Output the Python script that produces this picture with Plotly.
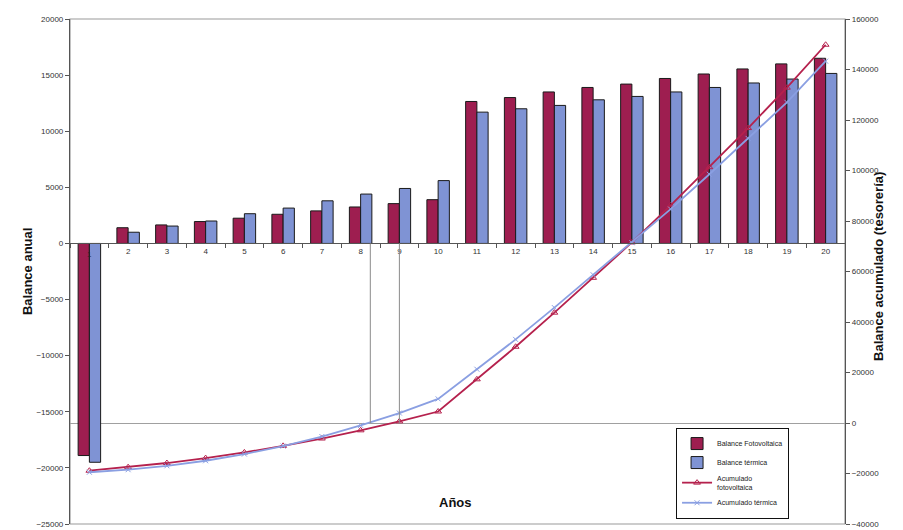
import plotly.graph_objects as go

years = list(range(1, 21))
balance_fv = [-18900, 1400, 1650, 1950, 2250, 2600, 2900, 3250, 3550, 3900,
              12650, 13000, 13500, 13900, 14200, 14700, 15100, 15550, 16000, 16500]
balance_term = [-19500, 1000, 1550, 2000, 2650, 3150, 3800, 4400, 4900, 5600,
                11700, 12000, 12300, 12800, 13100, 13500, 13900, 14300, 14650, 15150]
acum_fv = [-18900, -17500, -15850, -13900, -11650, -9050, -6150, -2900, 650, 4550,
           17300, 30200, 43700, 57500, 71500, 86200, 101300, 116800, 132800, 149800]
acum_term = [-19500, -18500, -16950, -14950, -12300, -9150, -5350, -950, 3950, 9550,
             21300, 33100, 45700, 58700, 71400, 84700, 98500, 112700, 127000, 143300]
payback_years = [8.25, 9]

left_range = [-25000, 20000]
right_range = [-40000, 160000]

RED = "#9E1E50"
BLUE = "#7F93D4"
LRED = "#B5214D"
LBLUE = "#8A9FE2"
FONT = "Liberation Sans, Arial, sans-serif"

fig = go.Figure()
fig.add_trace(go.Bar(x=years, y=balance_fv, name="Balance Fotovoltaica",
                     marker=dict(color=RED, line=dict(color="#1a1a1a", width=1))))
fig.add_trace(go.Bar(x=years, y=balance_term, name="Balance térmica",
                     marker=dict(color=BLUE, line=dict(color="#1a1a1a", width=1))))
fig.add_trace(go.Scatter(x=years, y=acum_fv, name="Acumulado<br>fotovoltaica",
                         yaxis="y2", mode="lines+markers",
                         line=dict(color=LRED, width=1.8),
                         marker=dict(symbol="triangle-up-open", size=6, color=LRED)))
fig.add_trace(go.Scatter(x=years, y=acum_term, name="Acumulado térmica",
                         yaxis="y2", mode="lines+markers",
                         line=dict(color=LBLUE, width=1.8),
                         marker=dict(symbol="x-thin-open", size=5, color=LBLUE,
                                     line=dict(color=LBLUE, width=1))))

zero_frac_left = (0 - left_range[0]) / (left_range[1] - left_range[0])
zero_frac_right = (0 - right_range[0]) / (right_range[1] - right_range[0])

shapes = [dict(type="rect", xref="paper", yref="paper", x0=0, x1=1, y0=0, y1=1,
               line=dict(color="#9a9a9a", width=1.2), layer="below")]
for px in payback_years:
    shapes.append(dict(type="line", xref="x", yref="paper", x0=px, x1=px,
                       y0=zero_frac_right, y1=zero_frac_left,
                       line=dict(color="#8a8a8a", width=1)))

tick_text = [str(y) for y in years]
tick_text[0] = ""

fig.update_layout(
    width=903, height=530,
    margin=dict(l=62, r=66, t=11, b=14, autoexpand=False),
    paper_bgcolor="white", plot_bgcolor="white",
    barmode="group", bargap=0.42, bargroupgap=0,
    font=dict(family=FONT, size=8, color="#333"),
    showlegend=True,
    legend=dict(x=0.782, y=0.19, xanchor="left", yanchor="top",
                bordercolor="#111", borderwidth=1, bgcolor="white",
                font=dict(size=7, color="#222"), tracegroupgap=3,
                itemwidth=30, entrywidth=110, entrywidthmode="pixels"),
    xaxis=dict(range=[0.5, 20.5], anchor="free", position=zero_frac_left,
               automargin=False,
               tickmode="array", tickvals=years, ticktext=tick_text,
               ticks="", showline=True, linecolor="#555", linewidth=1,
               showgrid=False, zeroline=False,
               tickfont=dict(size=8, color="#333"),
               minor=dict(tick0=0.5, dtick=1, ticks="outside", ticklen=4,
                          tickcolor="#555", showgrid=False)),
    yaxis=dict(range=left_range, dtick=5000, tick0=0, showline=True,
               automargin=False, tickformat="d",
               linecolor="#555", linewidth=1.2, ticks="outside", ticklen=4,
               tickcolor="#555", showgrid=False, zeroline=False,
               tickfont=dict(size=8, color="#333")),
    yaxis2=dict(range=right_range, dtick=20000, tick0=0, overlaying="y",
                automargin=False, tickformat="d",
                side="right", showline=True, linecolor="#555", linewidth=1.2,
                ticks="outside", ticklen=4, tickcolor="#555", showgrid=False,
                zeroline=True, zerolinecolor="#a0a0a0", zerolinewidth=1.2,
                tickfont=dict(size=8, color="#333")),
    shapes=shapes,
    annotations=[
        dict(text="<b>Balance anual</b>", xref="paper", yref="paper",
             x=-0.067, y=0.5, textangle=-90, showarrow=False,
             font=dict(size=13, color="#111")),
        dict(text="<b>Balance acumulado (tesorería)</b>", xref="paper", yref="paper",
             x=1.0555, y=0.51, textangle=-90, showarrow=False,
             font=dict(size=13, color="#111")),
        dict(text="<b>Años</b>", xref="paper", yref="paper",
             x=0.497, y=0.024, showarrow=False,
             font=dict(size=13, color="#111")),
        dict(text=str(years[0]), xref="x", yref="y", x=years[0], y=0,
             yanchor="top", yshift=-5, showarrow=False,
             font=dict(size=8, color="#222")),
    ],
)

fig.write_html("out.html")
